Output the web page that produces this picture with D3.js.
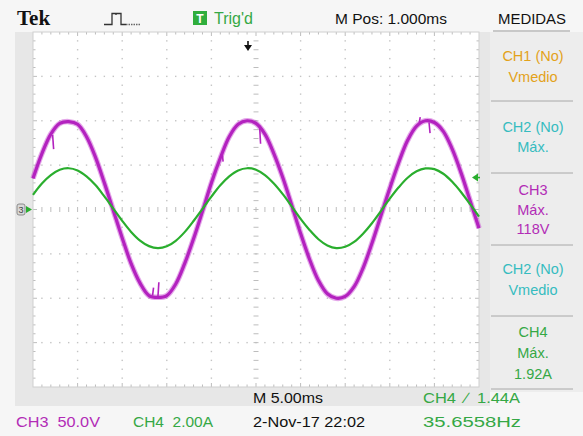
<!DOCTYPE html>
<html>
<head>
<meta charset="utf-8">
<script src="https://cdn.jsdelivr.net/npm/d3@7"></script>
<style>
  html, body { margin: 0; padding: 0; background: #f4f4f4; }
  svg { display: block; }
  text { font-family: "Liberation Sans", Arial, sans-serif; white-space: pre; }
</style>
</head>
<body>
<svg id="scope" width="583" height="436"></svg>
<script>
// Sample times (ms) across the 10-division, 5 ms/div record
const sampleTimesMs = [0,1,2,3,4,5,6,7,8,9,10,11,12,13,14,15,16,17,18,19,20,
  21,22,23,24,25,26,27,28,29,30,31,32,33,34,35,36,37,38,39,40,
  41,42,43,44,45,46,47,48,49,50];

// CH3 voltage (V), 50 V/div
const ch3Volts = [35,63,85,97,99,96,82,59,30,-1,-32,-61,-83,-97,-99,-97,-84,-61,-33,-2,30,
  58,82,96,100,97,85,63,36,5,-27,-56,-80,-95,-100,-98,-87,-66,-38,-7,24,
  53,78,94,100,98,88,68,41,10,-21];

// CH4 current (A), 2 A/div
const ch4Amps = [0.66,1.17,1.55,1.79,1.86,1.76,1.49,1.10,0.59,0.04,-0.51,-1.01,-1.40,-1.65,-1.74,-1.66,-1.41,-1.02,-0.52,0.03,0.58,
  1.09,1.49,1.76,1.86,1.79,1.55,1.17,0.69,0.14,-0.42,-0.92,-1.34,-1.62,-1.74,-1.68,-1.46,-1.09,-0.62,-0.07,0.49,
  1.00,1.43,1.72,1.85,1.82,1.61,1.25,0.78,0.24,-0.32];

// Short glitches on the CH3 trace: time (ms), from-volts, to-volts
const ch3GlitchT  = [2.2, 13.4, 14.0, 21.2, 25.4, 43.3, 44.4];
const ch3GlitchV0 = [84, -97, -99, 64, 95, 98, 98];
const ch3GlitchV1 = [68, -88, -82, 54, 74, 104, 86];

// Screen readouts
const topLabels = { tek: "Tek", trig: "Trig'd", mpos: "M Pos: 1.000ms", menu: "MEDIDAS" };
const measureBlocks = [
  { lines: ["CH1 (No)", "Vmedio"], color: "#e3a21a" },
  { lines: ["CH2 (No)", "Máx."], color: "#36bcc0" },
  { lines: ["CH3", "Máx.", "118V"], color: "#b22cb6" },
  { lines: ["CH2 (No)", "Vmedio"], color: "#36bcc0" },
  { lines: ["CH4", "Máx.", "1.92A"], color: "#35a845" }
];
const bottomLabels = [
  { text: "CH3  50.0V", color: "#b22cb6", x: 16, row: 1, len: 84 },
  { text: "CH4  2.00A", color: "#35a845", x: 133, row: 1, len: 80 },
  { text: "M 5.00ms", color: "#111", x: 253, row: 0, len: 70 },
  { text: "2-Nov-17 22:02", color: "#111", x: 253, row: 1, len: 112 },
  { text: "CH4  \u2215  1.44A", color: "#35a845", x: 423, row: 0, len: 97 },
  { text: "35.6558Hz", color: "#35a845", x: 423, row: 1, len: 98 }
];
const triggerLevelAmps = 1.44;
const timePerDiv = 5, voltsPerDiv = 50, ampsPerDiv = 2;
const hDivs = 10, vDivs = 8;

const svg = d3.select("#scope");
const G = { left: 33, right: 479, top: 32, bottom: 387 };

const x = d3.scaleLinear().domain([0, hDivs * timePerDiv]).range([G.left, G.right]);
const yV = d3.scaleLinear().domain([-vDivs / 2 * voltsPerDiv, vDivs / 2 * voltsPerDiv]).range([G.bottom, G.top]);
const yA = d3.scaleLinear().domain([-vDivs / 2 * ampsPerDiv, vDivs / 2 * ampsPerDiv]).range([G.bottom, G.top]);
const divX = d3.scaleLinear().domain([0, hDivs]).range([G.left, G.right]);
const divY = d3.scaleLinear().domain([0, vDivs]).range([G.top, G.bottom]);

// Bezel and panels
svg.append("rect").attr("x", 0).attr("y", 0).attr("width", 583).attr("height", 436).attr("fill", "#f6f6f6");
svg.append("rect").attr("x", 15).attr("y", G.top).attr("width", 475).attr("height", 374).attr("fill", "#e7e7e7");
svg.append("rect").attr("x", 490).attr("y", 32).attr("width", 93).attr("height", 360).attr("fill", "#ededed");
svg.append("rect").attr("x", G.left).attr("y", G.top).attr("width", G.right - G.left).attr("height", G.bottom - G.top).attr("fill", "#ffffff");

// Graticule
const grid = svg.append("g");
const dotColor = "#c4c4c4";
for (let i = 1; i < hDivs; i++) {
  if (i === hDivs / 2) continue;
  for (let k = 1; k < vDivs * 5; k++) {
    if (k % 5 === 0) continue;
    grid.append("rect").attr("x", divX(i) - 0.7).attr("y", divY(k / 5) - 0.7)
      .attr("width", 1.4).attr("height", 1.4).attr("fill", dotColor);
  }
}
for (let j = 1; j < vDivs; j++) {
  if (j === vDivs / 2) continue;
  for (let k = 1; k < hDivs * 5; k++) {
    grid.append("rect").attr("x", divX(k / 5) - 0.7).attr("y", divY(j) - 0.7)
      .attr("width", 1.4).attr("height", 1.4).attr("fill", dotColor);
  }
}
// centre cross ticks
for (let k = 1; k < hDivs * 5; k++) {
  grid.append("line").attr("x1", divX(k / 5)).attr("x2", divX(k / 5))
    .attr("y1", divY(4) - 2.5).attr("y2", divY(4) + 2.5).attr("stroke", "#bdbdbd").attr("stroke-width", 1);
}
for (let k = 1; k < vDivs * 5; k++) {
  grid.append("line").attr("x1", divX(5) - 2.5).attr("x2", divX(5) + 2.5)
    .attr("y1", divY(k / 5)).attr("y2", divY(k / 5)).attr("stroke", "#bdbdbd").attr("stroke-width", 1);
}
// edge ticks
for (let k = 1; k < hDivs * 5; k++) {
  const len = k % 5 === 0 ? 4 : 2.5;
  grid.append("line").attr("x1", divX(k / 5)).attr("x2", divX(k / 5))
    .attr("y1", G.top).attr("y2", G.top + len).attr("stroke", "#bdbdbd");
  grid.append("line").attr("x1", divX(k / 5)).attr("x2", divX(k / 5))
    .attr("y1", G.bottom - len).attr("y2", G.bottom).attr("stroke", "#bdbdbd");
}
for (let k = 1; k < vDivs * 5; k++) {
  const len = k % 5 === 0 ? 4 : 2.5;
  grid.append("line").attr("x1", G.left).attr("x2", G.left + len)
    .attr("y1", divY(k / 5)).attr("y2", divY(k / 5)).attr("stroke", "#bdbdbd");
  grid.append("line").attr("x1", G.right - len).attr("x2", G.right)
    .attr("y1", divY(k / 5)).attr("y2", divY(k / 5)).attr("stroke", "#bdbdbd");
}
svg.append("rect").attr("x", G.left).attr("y", G.top).attr("width", G.right - G.left).attr("height", G.bottom - G.top)
  .attr("fill", "none").attr("stroke", "#cfcfcf").attr("stroke-width", 1);

// Traces
const traces = svg.append("g");
const ch3Line = d3.line().x((d, i) => x(sampleTimesMs[i])).y(d => yV(d)).curve(d3.curveCatmullRom);
const ch4Line = d3.line().x((d, i) => x(sampleTimesMs[i])).y(d => yA(d)).curve(d3.curveCatmullRom);

// CH3: a soft noise halo under a solid core
traces.append("path").datum(ch3Volts).attr("d", ch3Line)
  .attr("fill", "none").attr("stroke", "#c43cce").attr("stroke-width", 5.5).attr("opacity", 0.45)
  .attr("stroke-linejoin", "round");
traces.append("path").datum(ch3Volts).attr("d", ch3Line)
  .attr("fill", "none").attr("stroke", "#b322bf").attr("stroke-width", 3.2).attr("stroke-linejoin", "round");
traces.selectAll("line.glitch").data(ch3GlitchT).enter().append("line")
  .attr("x1", d => x(d)).attr("x2", d => x(d) + 1)
  .attr("y1", (d, i) => yV(ch3GlitchV0[i])).attr("y2", (d, i) => yV(ch3GlitchV1[i]))
  .attr("stroke", "#b322bf").attr("stroke-width", 1.6);
traces.append("path").datum(ch4Amps).attr("d", ch4Line)
  .attr("fill", "none").attr("stroke", "#2aae2e").attr("stroke-width", 2.2).attr("stroke-linejoin", "round");

// Ground reference marker (left) and trigger level marker (right)
const y0 = yA(0);
svg.append("rect").attr("x", 17).attr("y", y0 - 5.5).attr("width", 8).attr("height", 11).attr("rx", 2)
  .attr("fill", "#d8d8d8").attr("stroke", "#777").attr("stroke-width", 0.8);
svg.append("text").attr("x", 21).attr("y", y0 + 3.5).attr("text-anchor", "middle")
  .attr("font-size", 9).attr("fill", "#444").text("3");
svg.append("path").attr("d", `M26,${y0 - 3.5} L32,${y0} L26,${y0 + 3.5} Z`).attr("fill", "#2aae2e");
const yTrig = yA(triggerLevelAmps);
svg.append("path").attr("d", `M${G.right - 7},${yTrig} L${G.right - 1},${yTrig - 4} L${G.right - 1},${yTrig + 4} Z`).attr("fill", "#2aae2e");
svg.append("line").attr("x1", G.right - 4).attr("x2", G.right + 1).attr("y1", yTrig).attr("y2", yTrig)
  .attr("stroke", "#2aae2e").attr("stroke-width", 1.5);

// Trigger position arrow
const trigX = 248;
svg.append("line").attr("x1", trigX).attr("x2", trigX).attr("y1", 41).attr("y2", 47).attr("stroke", "#111").attr("stroke-width", 1.6);
svg.append("path").attr("d", `M${trigX - 4},${45} L${trigX + 4},${45} L${trigX},${51} Z`).attr("fill", "#111");

// Top status bar
svg.append("text").attr("x", 17).attr("y", 25)
  .style("font-family", "'Liberation Serif', 'DejaVu Serif', serif")
  .attr("font-weight", "bold").attr("font-size", 21).attr("fill", "#111").text(topLabels.tek);
svg.append("path").attr("d", "M104,24.5 H112 V13.5 H116 V15 M116,13.5 H121 V24.5 H126")
  .attr("fill", "none").attr("stroke", "#333").attr("stroke-width", 1.3);
svg.append("path").attr("d", "M126,24.5 H140").attr("stroke", "#666").attr("stroke-width", 1.3).attr("stroke-dasharray", "1.5,1");
svg.append("rect").attr("x", 193).attr("y", 11).attr("width", 14).attr("height", 14).attr("fill", "#2fae3c");
svg.append("text").attr("x", 200).attr("y", 23).attr("text-anchor", "middle").attr("font-size", 12)
  .attr("font-weight", "bold").attr("fill", "#fff").text("T");
svg.append("text").attr("x", 214).attr("y", 24).attr("font-size", 16).attr("fill", "#35a845").text(topLabels.trig);
svg.append("text").attr("x", 335).attr("y", 24).attr("font-size", 15).attr("fill", "#111")
  .attr("textLength", 112).attr("lengthAdjust", "spacingAndGlyphs").text(topLabels.mpos);
svg.append("text").attr("x", 532).attr("y", 24).attr("text-anchor", "middle").attr("font-size", 15).attr("fill", "#111")
  .attr("textLength", 68).attr("lengthAdjust", "spacingAndGlyphs").text(topLabels.menu);
svg.append("line").attr("x1", 493).attr("x2", 570).attr("y1", 31).attr("y2", 31).attr("stroke", "#9a9a9a").attr("stroke-width", 1);

// Measurement panel
const blockBaselines = [[61, 82], [132, 152], [195, 215, 234], [274, 295], [337, 358, 379]];
const dividerYs = [101, 173, 245, 316, 389];
measureBlocks.forEach((b, bi) => {
  b.lines.forEach((ln, li) => {
    svg.append("text").attr("x", 533).attr("y", blockBaselines[bi][li]).attr("text-anchor", "middle")
      .attr("font-size", 14.5).attr("fill", b.color).text(ln);
  });
});
dividerYs.forEach(yy => {
  svg.append("line").attr("x1", 491).attr("x2", 573).attr("y1", yy).attr("y2", yy)
    .attr("stroke", "#a8a8a8").attr("stroke-width", 1);
});

// Bottom readouts
bottomLabels.forEach(l => {
  svg.append("text").attr("x", l.x).attr("y", l.row === 0 ? 403 : 427)
    .attr("font-size", 15).attr("fill", l.color)
    .attr("textLength", l.len).attr("lengthAdjust", "spacingAndGlyphs").text(l.text);
});
</script>
</body>
</html>
